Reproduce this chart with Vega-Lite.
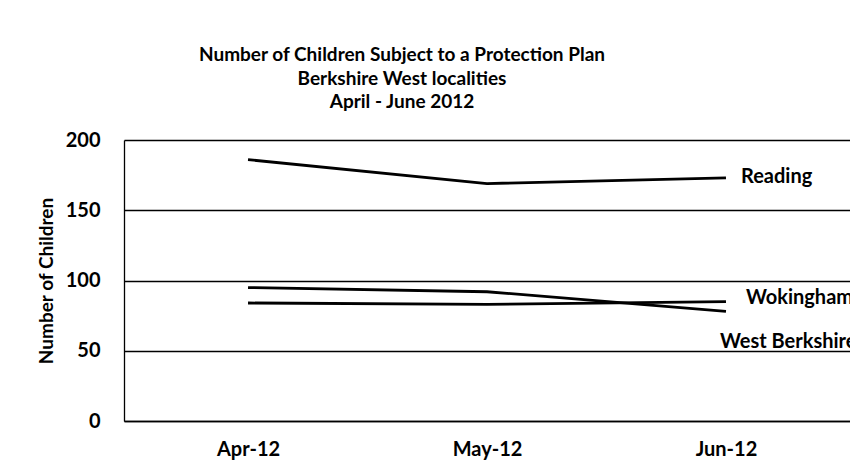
{
  "$schema": "https://vega.github.io/schema/vega-lite/v6.json",
  "autosize": "none",
  "width": 726,
  "height": 281,
  "padding": {"left": 124, "top": 140, "right": 0, "bottom": 44},
  "background": "white",
  "title": {
    "text": ["Number of Children Subject to a Protection Plan", "Berkshire West localities", "April - June 2012"],
    "font": "Lato",
    "fontSize": 19,
    "fontWeight": "bold",
    "color": "black",
    "lineHeight": 23.5,
    "anchor": "middle",
    "dx": -85,
    "offset": 18
  },
  "config": {
    "view": {"stroke": null},
    "font": "Lato",
    "axis": {
      "labelFont": "Lato",
      "titleFont": "Lato",
      "labelColor": "black",
      "titleColor": "black",
      "domainColor": "black",
      "gridColor": "black",
      "gridOpacity": 1
    }
  },
  "data": {
    "values": [
      {"month": "Apr-12", "locality": "Reading", "children": 186},
      {"month": "May-12", "locality": "Reading", "children": 169},
      {"month": "Jun-12", "locality": "Reading", "children": 173},
      {"month": "Apr-12", "locality": "Wokingham", "children": 84},
      {"month": "May-12", "locality": "Wokingham", "children": 83},
      {"month": "Jun-12", "locality": "Wokingham", "children": 85},
      {"month": "Apr-12", "locality": "West Berkshire", "children": 95},
      {"month": "May-12", "locality": "West Berkshire", "children": 92},
      {"month": "Jun-12", "locality": "West Berkshire", "children": 78}
    ]
  },
  "encoding": {
    "x": {
      "field": "month",
      "type": "ordinal",
      "sort": ["Apr-12", "May-12", "Jun-12"],
      "scale": {"type": "point", "padding": 0.519},
      "axis": {
        "title": null,
        "labelAngle": 0,
        "labelFontSize": 20,
        "labelFontWeight": "bold",
        "labelPadding": 18,
        "ticks": false,
        "grid": false,
        "domainWidth": 1.5
      }
    },
    "y": {
      "field": "children",
      "type": "quantitative",
      "scale": {"domain": [0, 200], "nice": false},
      "axis": {
        "title": "Number of Children",
        "titleFontSize": 19,
        "titleFontWeight": "bold",
        "titlePadding": 9,
        "values": [0, 50, 100, 150, 200],
        "labelFontSize": 20,
        "labelFontWeight": "bold",
        "labelPadding": 24,
        "ticks": false,
        "grid": true,
        "gridWidth": 1.3,
        "domainWidth": 1.3
      }
    }
  },
  "layer": [
    {
      "mark": {"type": "line", "color": "black", "strokeWidth": 2.8},
      "encoding": {"detail": {"field": "locality"}}
    },
    {
      "transform": [{"filter": "datum.month === 'Jun-12' && datum.locality === 'Reading'"}],
      "mark": {"type": "text", "align": "left", "baseline": "middle", "dx": 15, "dy": -1, "fontSize": 20, "fontWeight": "bold", "color": "black"},
      "encoding": {"text": {"field": "locality"}}
    },
    {
      "transform": [{"filter": "datum.month === 'Jun-12' && datum.locality === 'Wokingham'"}],
      "mark": {"type": "text", "align": "left", "baseline": "middle", "dx": 20, "dy": -4, "fontSize": 20, "fontWeight": "bold", "color": "black"},
      "encoding": {"text": {"field": "locality"}}
    },
    {
      "transform": [{"filter": "datum.month === 'Jun-12' && datum.locality === 'West Berkshire'"}],
      "mark": {"type": "text", "align": "left", "baseline": "middle", "dx": -6, "dy": 31, "fontSize": 20, "fontWeight": "bold", "color": "black"},
      "encoding": {"text": {"field": "locality"}}
    }
  ]
}
